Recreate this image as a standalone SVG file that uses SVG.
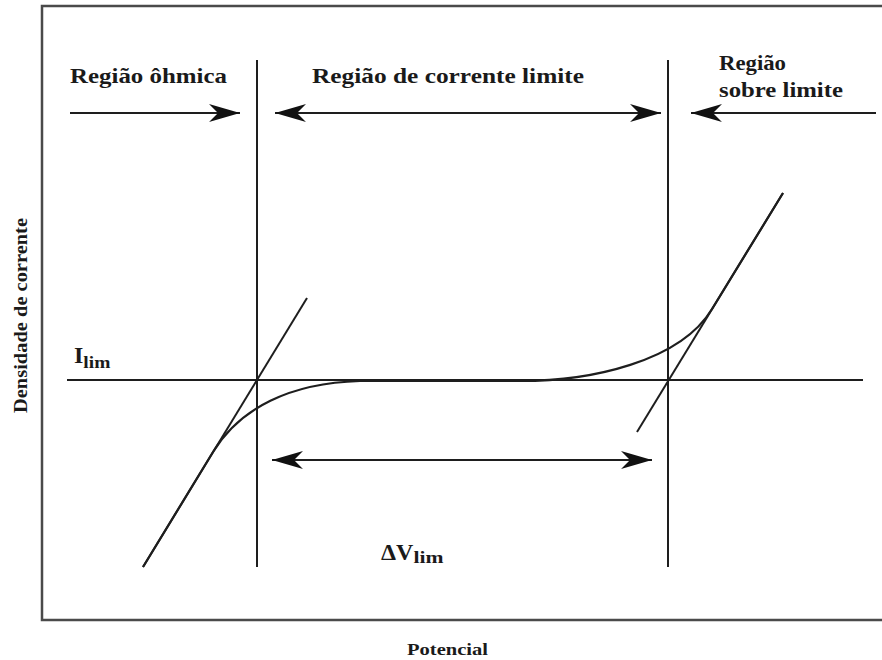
<svg xmlns="http://www.w3.org/2000/svg" width="882" height="660" viewBox="0 0 882 660">
<style>
.frame{fill:none;stroke:#4a4a4a;stroke-width:2.5}
.ln{fill:none;stroke:#1e1e1e;stroke-width:2}
.cv{fill:none;stroke:#1e1e1e;stroke-width:2.2}
.t{font-family:"Liberation Serif","Times New Roman",serif;font-weight:bold;fill:#1a1a1a}
</style>
<defs>
<marker id="ah" markerUnits="userSpaceOnUse" markerWidth="34" markerHeight="22" viewBox="-32 -11 34 22" refX="0" refY="0" orient="auto-start-reverse">
<path d="M0,0 L-31,-9 L-22,0 L-31,9 Z" fill="#111"/>
</marker>
</defs>
<rect width="882" height="660" fill="#fff"/>
<g id="frame">
<path class="frame" d="M882,6 H42 V620 H882"/>
</g>
<g id="axes-labels">
<text class="t" font-size="17" x="407" y="655" textLength="81" lengthAdjust="spacingAndGlyphs">Potencial</text>
<text class="t" font-size="19" transform="translate(27,413) rotate(-90)" x="0" y="0" textLength="195" lengthAdjust="spacingAndGlyphs">Densidade de corrente</text>
</g>
<g id="region-labels">
<text class="t" font-size="21" x="70" y="83" textLength="157" lengthAdjust="spacingAndGlyphs">Região ôhmica</text>
<text class="t" font-size="21" x="312" y="83" textLength="272" lengthAdjust="spacingAndGlyphs">Região de corrente limite</text>
<text class="t" font-size="21" x="719" y="70" textLength="67" lengthAdjust="spacingAndGlyphs">Região</text>
<text class="t" font-size="21" x="719" y="97" textLength="124" lengthAdjust="spacingAndGlyphs">sobre limite</text>
</g>
<g id="ilim-label">
<text class="t" font-size="24" x="74" y="363">I<tspan font-size="16" dy="5" textLength="27" lengthAdjust="spacingAndGlyphs">lim</tspan></text>
</g>
<g id="dvlim-label">
<text class="t" font-size="24" x="381" y="560">ΔV<tspan font-size="16" dy="3" textLength="30" lengthAdjust="spacingAndGlyphs">lim</tspan></text>
</g>
<g id="guides">
<line class="ln" x1="257" y1="60" x2="257" y2="567"/>
<line class="ln" x1="668" y1="60" x2="668" y2="567"/>
<line class="ln" x1="67" y1="380" x2="863" y2="380"/>
<line class="ln" x1="143" y1="567" x2="307" y2="298"/>
<line class="ln" x1="637" y1="432" x2="783" y2="193"/>
</g>
<g id="curve">
<path class="cv" d="M143,567 L213,452 C240,408 290,383 360,381 L520,381 C590,381 680,362 712,309 L783,193"/>
</g>
<g id="connectors">
<line class="ln" x1="70" y1="113" x2="240" y2="113" marker-end="url(#ah)"/>
<line class="ln" x1="275" y1="113" x2="661" y2="113" marker-start="url(#ah)" marker-end="url(#ah)"/>
<line class="ln" x1="876" y1="113" x2="691" y2="113" marker-end="url(#ah)"/>
<line class="ln" x1="272" y1="460" x2="652" y2="460" marker-start="url(#ah)" marker-end="url(#ah)"/>
</g>
</svg>
